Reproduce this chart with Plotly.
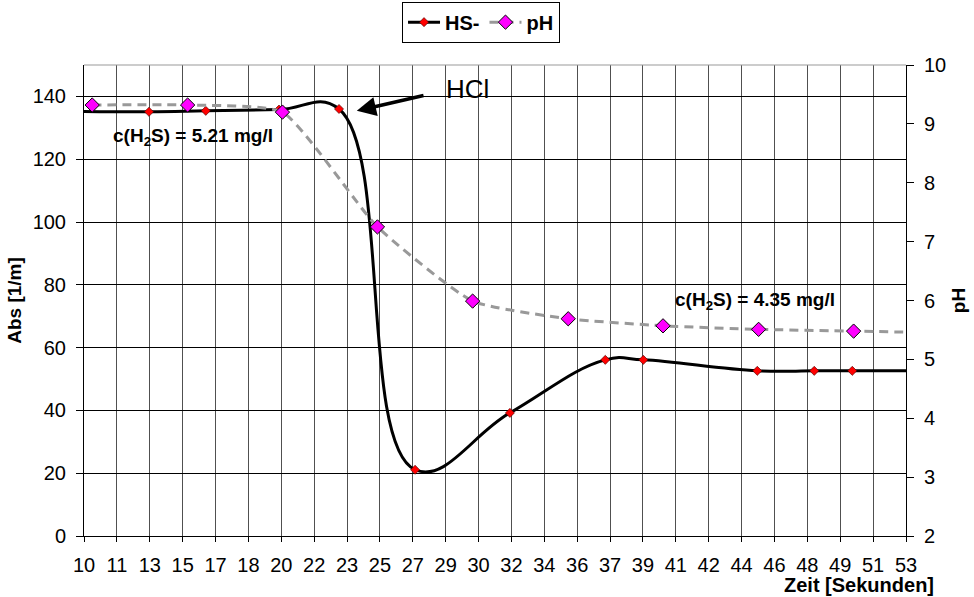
import numpy as np
import plotly.graph_objects as go

# ---- data ----
tick_labels = ["10", "11", "13", "15", "17", "18", "20", "22", "23", "25", "27", "29", "30",
               "32", "34", "36", "37", "39", "41", "42", "44", "46", "48", "49", "51", "53"]

hs_time = [9.0, 13.4, 16.37, 20.2, 23.34, 27.32, 32.28, 37.27, 39.26, 45.22, 48.2, 50.19, 54.0]
hs_abs = [135.3, 135.1, 135.4, 135.8, 136.0, 21.1, 39.2, 56.1, 56.1, 52.6, 52.6, 52.6, 52.6]

ph_time = [10.43, 15.42, 20.38, 25.35, 30.33, 35.33, 40.29, 45.29, 50.26, 55.0]
ph_val = [9.32, 9.32, 9.20, 7.25, 5.99, 5.69, 5.57, 5.51, 5.48, 5.45]

FONT = "Arial, 'Liberation Sans', sans-serif"

tickvals = list(np.linspace(10, 53, len(tick_labels)))

fig = go.Figure()

fig.add_trace(go.Scatter(
    x=hs_time, y=hs_abs, name="<b>HS-</b>", mode="lines+markers",
    line=dict(color="black", width=3, shape="spline", smoothing=1.2),
    marker=dict(symbol="diamond", size=7, color="#FF0000",
                line=dict(color="#400000", width=0.6)),
    yaxis="y",
))

fig.add_trace(go.Scatter(
    x=ph_time, y=ph_val, name="<b>pH</b>", mode="lines+markers",
    line=dict(color="#999999", width=3, dash="9px,6px", shape="spline", smoothing=0.5),
    marker=dict(symbol="diamond", size=11, color="#FF00FF",
                line=dict(color="black", width=1)),
    yaxis="y2",
))

fig.update_layout(
    width=974, height=597,
    margin=dict(l=84, r=68, t=65, b=61, autoexpand=False),
    paper_bgcolor="white", plot_bgcolor="white",
    font=dict(family=FONT, size=20, color="black"),
    showlegend=True,
    legend=dict(orientation="h", x=0.483, xanchor="center", y=1.091, yanchor="middle",
                bordercolor="black", borderwidth=1, bgcolor="white",
                font=dict(family=FONT, size=20, color="black"),
                itemwidth=32, tracegroupgap=0),
    xaxis=dict(
        range=[10, 53], tickmode="array", tickvals=tickvals, ticktext=tick_labels,
        showgrid=True, gridcolor="#505050", gridwidth=1,
        showline=True, linecolor="black", linewidth=1,
        ticks="outside", ticklen=5, tickcolor="black",
        tickfont=dict(size=20), zeroline=False, ticklabelstandoff=6,
    ),
    yaxis=dict(
        range=[0, 150], tick0=0, dtick=20,
        showgrid=True, gridcolor="black", gridwidth=1,
        showline=True, linecolor="black", linewidth=1,
        ticks="outside", ticklen=7, tickcolor="black",
        tickfont=dict(size=20), zeroline=False, ticklabelstandoff=6,
        title=dict(text="<b>Abs [1/m]</b>", font=dict(size=19), standoff=5),
    ),
    yaxis2=dict(
        range=[2, 10], tick0=2, dtick=1, overlaying="y", side="right",
        showgrid=False, showline=True, linecolor="black", linewidth=1,
        ticks="outside", ticklen=7, tickcolor="black",
        tickfont=dict(size=20), zeroline=False, ticklabelstandoff=6,
        title=dict(text="<b>pH</b>", font=dict(size=19), standoff=6),
    ),
    yaxis3=dict(
        range=[2, 10], tick0=2, dtick=1, overlaying="y", side="right",
        showgrid=False, showline=False, ticks="inside", ticklen=7,
        tickcolor="black", showticklabels=False, zeroline=False,
    ),
)

# top border of plot area
fig.add_shape(type="line", xref="paper", yref="paper", x0=0, x1=1, y0=1, y1=1,
              line=dict(color="#999999", width=1))

fig.add_annotation(text="<b>c(H<sub>2</sub>S) = 5.21 mg/l</b>", x=0.133, y=0.848,
                   xref="paper", yref="paper", xanchor="center", yanchor="middle",
                   showarrow=False, font=dict(size=19, family=FONT))
fig.add_annotation(text="<b>c(H<sub>2</sub>S) = 4.35 mg/l</b>", x=0.816, y=0.5,
                   xref="paper", yref="paper", xanchor="center", yanchor="middle",
                   showarrow=False, font=dict(size=19, family=FONT))
fig.add_annotation(text="HCl", x=0.467, y=0.948, xref="paper", yref="paper",
                   xanchor="center", yanchor="middle",
                   showarrow=False, font=dict(size=26, family=FONT))
fig.add_annotation(x=24.27, y=135.4, ax=27.84, ay=140.4, xref="x", yref="y",
                   axref="x", ayref="y", text="", showarrow=True,
                   arrowhead=2, arrowsize=1.1, arrowwidth=3.5, arrowcolor="black")
fig.add_annotation(text="<b>Zeit [Sekunden]</b>", x=1.036, y=-0.105, xref="paper",
                   yref="paper", xanchor="right", yanchor="middle", showarrow=False,
                   font=dict(size=20, family=FONT))

fig.write_html("out.html")
